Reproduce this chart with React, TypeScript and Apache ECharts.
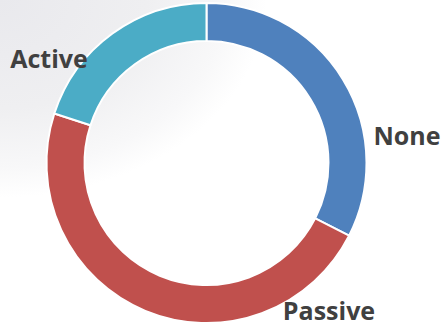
import React, { useEffect, useRef } from "react";
import * as echarts from "echarts";

const categories = ["None", "Passive", "Active"];
const values = [32.5, 47.5, 20];
const colors = ["#4F81BD", "#C0504D", "#4BACC6"];

// label anchor positions (layout only)
const labelAnchors: Record<string, [number, number]> = {
  None: [407, 135],
  Passive: [329, 310],
  Active: [49, 58],
};

export default function App() {
  const ref = useRef<HTMLDivElement>(null);
  useEffect(() => {
    if (!ref.current) return;
    const chart = echarts.init(ref.current, null, { renderer: "svg" });
    chart.setOption({
      animation: false,
      backgroundColor: "#ffffff",
      graphic: [
        {
          type: "rect",
          z: -10,
          silent: true,
          shape: { x: 0, y: 0, width: 444, height: 329 },
          style: {
            fill: {
              type: "radial",
              x: 0,
              y: 0,
              r: 0.6,
              colorStops: [
                { offset: 0, color: "#e9e9ed" },
                { offset: 0.55, color: "#efeff1" },
                { offset: 0.85, color: "#f8f8f9" },
                { offset: 1, color: "#ffffff" },
              ],
            },
          },
        },
      ],
      series: [
        {
          type: "pie",
          center: [206.5, 163],
          radius: [122, 160],
          startAngle: 90,
          clockwise: true,
          avoidLabelOverlap: false,
          itemStyle: { borderColor: "#ffffff", borderWidth: 2 },
          label: {
            show: true,
            position: "outside",
            formatter: "{b}",
            fontFamily: "Open Sans",
            fontWeight: "bold",
            fontSize: 25,
            lineHeight: 24,
            color: "#404040",
          },
          labelLine: { show: false },
          labelLayout: (p: any) => {
            const name = categories[p.dataIndex];
            const a = labelAnchors[name];
            return { x: a[0], y: a[1], align: "center", verticalAlign: "middle" };
          },
          emphasis: { disabled: true },
          data: categories.map((c, i) => ({
            name: c,
            value: values[i],
            itemStyle: { color: colors[i] },
          })),
        },
      ],
    });
    return () => chart.dispose();
  }, []);
  return (
    <div
      ref={ref}
      style={{ position: "fixed", left: 0, top: 0, width: 444, height: 329 }}
    />
  );
}
